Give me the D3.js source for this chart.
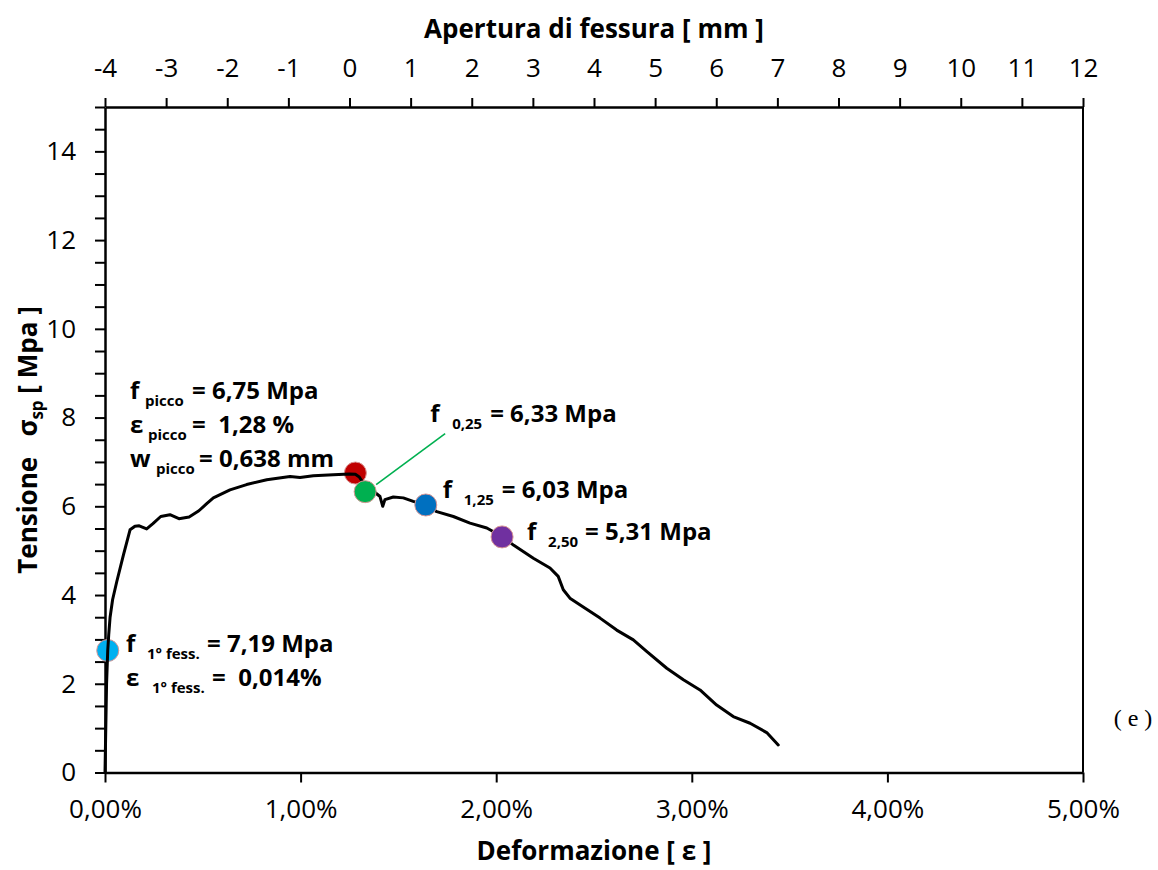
<!DOCTYPE html>
<html>
<head>
<meta charset="utf-8">
<script src="https://cdn.jsdelivr.net/npm/d3@7"></script>
<style>
  html, body { margin: 0; padding: 0; background: #fff; }
  svg { display: block; }
  text { font-family: "Open Sans", Lato, sans-serif; fill: #000; white-space: pre; }
</style>
</head>
<body>
<svg id="chart" width="1158" height="870"></svg>
<script>
// Stress–strain curve of the specimen: strain in %, stress in MPa
const strain = [0, 0.004, 0.008, 0.014, 0.019, 0.026, 0.039, 0.060, 0.094, 0.128, 0.153, 0.175, 0.213,
  0.245, 0.285, 0.332, 0.378, 0.430, 0.480, 0.520, 0.554, 0.639, 0.724, 0.827, 0.946, 0.997, 1.065,
  1.167, 1.250, 1.280, 1.300, 1.321, 1.406, 1.420, 1.431, 1.474, 1.525, 1.576, 1.636, 1.696, 1.781,
  1.866, 1.952, 2.030, 2.090, 2.190, 2.275, 2.317, 2.343, 2.377, 2.445, 2.531, 2.616, 2.701, 2.769,
  2.872, 2.957, 3.042, 3.127, 3.212, 3.298, 3.383, 3.442];
const stress = [0, 1.0, 2.0, 2.75, 3.1, 3.5, 3.9, 4.3, 4.9, 5.47, 5.55, 5.56, 5.49,
  5.61, 5.77, 5.81, 5.72, 5.76, 5.90, 6.06, 6.19, 6.37, 6.49, 6.60, 6.67, 6.65, 6.69,
  6.71, 6.73, 6.72, 6.66, 6.52, 6.22, 6.00, 6.15, 6.21, 6.19, 6.11, 6.03, 5.88, 5.77,
  5.62, 5.51, 5.32, 5.12, 4.83, 4.61, 4.42, 4.12, 3.93, 3.73, 3.48, 3.21, 2.99, 2.73,
  2.35, 2.09, 1.86, 1.52, 1.26, 1.11, 0.90, 0.62];

// Characteristic points: first crack, peak, f0.25, f1.25, f2.50
const pointNames = ["fess", "picco", "f025", "f125", "f250"];
const pointStrain = [0.014, 1.28, 1.33, 1.64, 2.03];
const pointStress = [null, 6.75, 6.33, 6.03, 5.31]; // first-crack stress
const pointColors = ["#00B0F0", "#C00000", "#00B050", "#0070C0", "#7030A0"];

// Axis ticks
const strainTicks = [0, 1, 2, 3, 4, 5];
const stressTicks = [0, 2, 4, 6, 8, 10, 12, 14];
const openingTicks = [-4, -3, -2, -1, 0, 1, 2, 3, 4, 5, 6, 7, 8, 9, 10, 11, 12];

const svg = d3.select("#chart");
const plotL = 105, plotR = 1083, plotT = 107, plotB = 772.5;

const x = d3.scaleLinear().domain([0, 5]).range([plotL, plotR]);
const xTop = d3.scaleLinear().domain([-4, 12]).range([plotL, plotR]);
const y = d3.scaleLinear().domain([0, 15]).range([plotB, plotT]);

const fmtPct = v => d3.format(".2f")(v).replace(".", ",") + "%";

// Bottom axis (strain)
const gB = svg.append("g").attr("transform", `translate(0,${plotB})`)
  .call(d3.axisBottom(x).tickValues(strainTicks).tickFormat(fmtPct).tickSizeInner(10).tickSizeOuter(0).tickPadding(17));
// Top axis (crack opening)
const gT = svg.append("g").attr("transform", `translate(0,${plotT})`)
  .call(d3.axisTop(xTop).tickValues(openingTicks).tickFormat(d => d).tickSizeInner(9).tickSizeOuter(0).tickPadding(21));
// Left axis (stress) with half-unit minor ticks
const gL = svg.append("g").attr("transform", `translate(${plotL},0)`)
  .call(d3.axisLeft(y).tickValues(d3.range(0, 15.01, 0.5))
    .tickFormat(d => stressTicks.includes(d) ? d : "").tickSizeInner(10).tickSizeOuter(0).tickPadding(19));
// Right border
svg.append("line").attr("x1", plotR).attr("x2", plotR).attr("y1", plotT).attr("y2", plotB)
  .attr("stroke", "#000").attr("stroke-width", 2);

[gB, gT, gL].forEach(g => {
  g.select(".domain").attr("stroke", "#000").attr("stroke-width", 2.5);
  g.selectAll(".tick line").attr("stroke", "#000").attr("stroke-width", 2);
  g.selectAll(".tick text").style("font-family", "'Open Sans', sans-serif").style("font-size", "26px").attr("fill", "#000");
});

// Axis titles
svg.append("text").attr("x", 594).attr("y", 38).attr("text-anchor", "middle")
  .style("font-size", "26px").style("font-weight", "bold").text("Apertura di fessura [ mm ]");
svg.append("text").attr("x", 594).attr("y", 860).attr("text-anchor", "middle")
  .style("font-size", "26px").style("font-weight", "bold").text("Deformazione [ ε ]");
const yt = svg.append("text").attr("transform", "translate(37,440) rotate(-90)").attr("text-anchor", "middle")
  .style("font-size", "26px").style("font-weight", "bold");
yt.append("tspan").text("Tensione   σ");
yt.append("tspan").attr("dy", 6).style("font-size", "17px").text("sp");
yt.append("tspan").attr("dy", -6).text(" [ Mpa ]");

svg.append("text").attr("x", 1133).attr("y", 726).attr("text-anchor", "middle")
  .style("font-family", "'Liberation Serif', 'DejaVu Serif', serif").style("font-size", "24px").text("( e )");

// Stress at a given strain
function stressAt(e) {
  const i = d3.bisectLeft(strain, e);
  if (i <= 0) return stress[0];
  const t = (e - strain[i - 1]) / (strain[i] - strain[i - 1]);
  return stress[i - 1] + t * (stress[i] - stress[i - 1]);
}
const points = pointNames.map((n, i) => ({
  name: n, e: pointStrain[i], s: pointStress[i] == null ? stressAt(pointStrain[i]) : pointStress[i], color: pointColors[i]
}));

const drawPoint = p => svg.append("circle").attr("cx", x(p.e)).attr("cy", y(p.s)).attr("r", 11)
  .attr("fill", p.color).attr("stroke", "#D99694").attr("stroke-width", 1);

// Markers that sit beneath the curve
points.filter(p => p.name === "fess" || p.name === "picco").forEach(drawPoint);

// Curve
const line = d3.line().x((d, i) => x(strain[i])).y((d, i) => y(stress[i])).curve(d3.curveLinear);
svg.append("path").datum(strain).attr("d", line).attr("fill", "none")
  .attr("stroke", "#000").attr("stroke-width", 3).attr("stroke-linejoin", "round").attr("stroke-linecap", "round");

// Leader for f0.25
const p025 = points.find(p => p.name === "f025");
svg.append("line").attr("x1", x(p025.e) + 11).attr("y1", y(p025.s) - 7)
  .attr("x2", x(p025.e) + 80).attr("y2", y(p025.s) - 58)
  .attr("stroke", "#00B050").attr("stroke-width", 1.6);

points.filter(p => p.name !== "fess" && p.name !== "picco").forEach(drawPoint);

// Annotation: main symbol, lowered subscript, then the value text
function note(xSym, yBase, sym, sub, xSub, val, xVal) {
  const t = svg.append("text").attr("y", yBase).style("font-weight", "bold");
  t.append("tspan").attr("x", xSym).style("font-size", "24px").text(sym);
  t.append("tspan").attr("x", xSub).attr("dy", 7).style("font-size", "15px").text(sub);
  t.append("tspan").attr("x", xVal).attr("dy", -7).style("font-size", "24px").text(val);
}

note(130, 399, "f", "picco", 145, "= 6,75 Mpa", 192);
note(130, 433, "ε", "picco", 148, "=  1,28 %", 192);
note(130, 467, "w", "picco", 156, "= 0,638 mm", 199);

const px = p => x(p.e), py = p => y(p.s);
const p125 = points.find(p => p.name === "f125");
const p250 = points.find(p => p.name === "f250");
const pFess = points.find(p => p.name === "fess");
note(px(p025) + 65, py(p025) - 70, "f", "0,25", px(p025) + 87, "= 6,33 Mpa", px(p025) + 125);
note(px(p125) + 17, py(p125) - 7, "f", "1,25", px(p125) + 38, "= 6,03 Mpa", px(p125) + 76);
note(px(p250) + 25, py(p250) + 3, "f", "2,50", px(p250) + 46, "= 5,31 Mpa", px(p250) + 83);
note(126, py(pFess) + 2, "f", "1° fess.", 147, "= 7,19 Mpa", 207);
note(126, py(pFess) + 36, "ε", "1° fess.", 152, "=  0,014%", 212);
</script>
</body>
</html>
